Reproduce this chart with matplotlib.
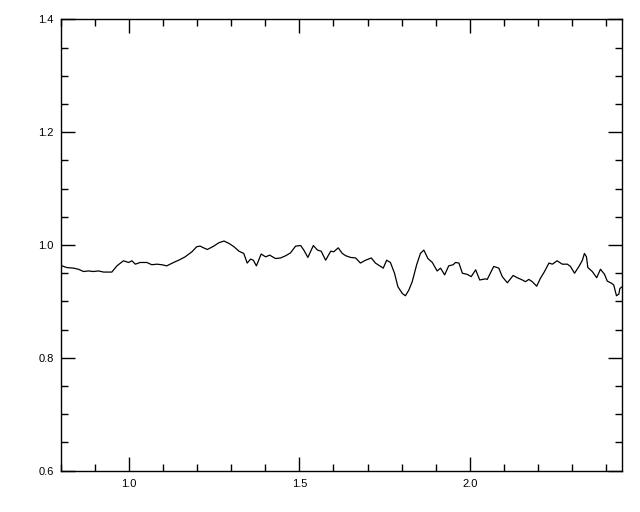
import matplotlib
matplotlib.use("Agg")
import matplotlib.pyplot as plt
from matplotlib.ticker import MultipleLocator, FormatStrFormatter

# values
wave = [0.804, 0.818, 0.838, 0.852, 0.867, 0.882, 0.896, 0.911, 0.926, 0.950,
        0.965, 0.984, 0.999, 1.009, 1.019, 1.033, 1.053, 1.067, 1.082, 1.097,
        1.111, 1.131, 1.146, 1.165, 1.185, 1.199, 1.209, 1.219, 1.230, 1.249,
        1.264, 1.279, 1.293, 1.308, 1.323, 1.337, 1.347, 1.357, 1.365, 1.374,
        1.388, 1.401, 1.413, 1.430, 1.445, 1.460, 1.474, 1.489, 1.504, 1.513,
        1.525, 1.541, 1.553, 1.564, 1.577, 1.592, 1.601, 1.614, 1.626, 1.636,
        1.650, 1.665, 1.679, 1.694, 1.711, 1.723, 1.738, 1.746, 1.756, 1.767,
        1.779, 1.789, 1.802, 1.811, 1.821, 1.831, 1.844, 1.855, 1.865, 1.877,
        1.890, 1.904, 1.914, 1.926, 1.938, 1.951, 1.958, 1.968, 1.978, 1.992,
        2.004, 2.017, 2.029, 2.046, 2.051, 2.070, 2.085, 2.095, 2.110, 2.127,
        2.139, 2.154, 2.163, 2.173, 2.183, 2.196, 2.207, 2.219, 2.232, 2.242,
        2.256, 2.271, 2.286, 2.295, 2.307, 2.320, 2.330, 2.336, 2.342, 2.346,
        2.359, 2.372, 2.383, 2.395, 2.403, 2.416, 2.422, 2.430, 2.437, 2.440,
        2.447]
ratio = [0.963, 0.960, 0.959, 0.957, 0.953, 0.954, 0.953, 0.954, 0.952, 0.952,
         0.963, 0.972, 0.969, 0.972, 0.966, 0.969, 0.969, 0.965, 0.966, 0.965,
         0.963, 0.969, 0.973, 0.979, 0.988, 0.997, 0.998, 0.995, 0.992, 0.998,
         1.004, 1.007, 1.003, 0.997, 0.989, 0.985, 0.968, 0.975, 0.973, 0.963,
         0.984, 0.979, 0.982, 0.976, 0.977, 0.981, 0.986, 0.998, 0.999, 0.991,
         0.978, 0.999, 0.991, 0.989, 0.973, 0.989, 0.988, 0.995, 0.985, 0.981,
         0.978, 0.977, 0.968, 0.973, 0.977, 0.968, 0.962, 0.959, 0.973, 0.969,
         0.950, 0.926, 0.914, 0.910, 0.920, 0.935, 0.965, 0.985, 0.991, 0.976,
         0.969, 0.954, 0.959, 0.947, 0.963, 0.965, 0.969, 0.968, 0.950, 0.948,
         0.944, 0.956, 0.938, 0.940, 0.939, 0.962, 0.959, 0.944, 0.933, 0.946,
         0.942, 0.938, 0.935, 0.939, 0.935, 0.927, 0.941, 0.953, 0.968, 0.966,
         0.972, 0.966, 0.966, 0.962, 0.950, 0.962, 0.973, 0.985, 0.979, 0.960,
         0.953, 0.942, 0.957, 0.948, 0.936, 0.932, 0.929, 0.910, 0.913, 0.923,
         0.926]

plt.rcParams['font.family'] = ['Liberation Sans', 'DejaVu Sans']

fig = plt.figure(figsize=(6.4, 5.12), dpi=100)
ax = fig.add_axes([0.0948, 0.0807, 0.8775, 0.8816])
ax.plot(wave, ratio, color='black', linewidth=0.9)

ax.set_xlim(0.8, 2.447)
ax.set_ylim(0.6, 1.4)
ax.xaxis.set_major_locator(MultipleLocator(0.5))
ax.xaxis.set_minor_locator(MultipleLocator(0.1))
ax.yaxis.set_major_locator(MultipleLocator(0.2))
ax.yaxis.set_minor_locator(MultipleLocator(0.05))
ax.xaxis.set_major_formatter(FormatStrFormatter('%.1f'))
ax.yaxis.set_major_formatter(FormatStrFormatter('%.1f'))

# IDL-like ticks: inward on every side
ax.tick_params(which='both', direction='in', top=True, right=True,
               width=1, colors='black', labelsize=8)
ax.tick_params(which='major', length=10)
ax.tick_params(which='minor', length=5)
ax.tick_params(axis='x', which='major', pad=6)
ax.tick_params(axis='y', which='major', pad=5)
for s in ax.spines.values():
    s.set_linewidth(1)

fig.savefig("out.png", dpi=100)
